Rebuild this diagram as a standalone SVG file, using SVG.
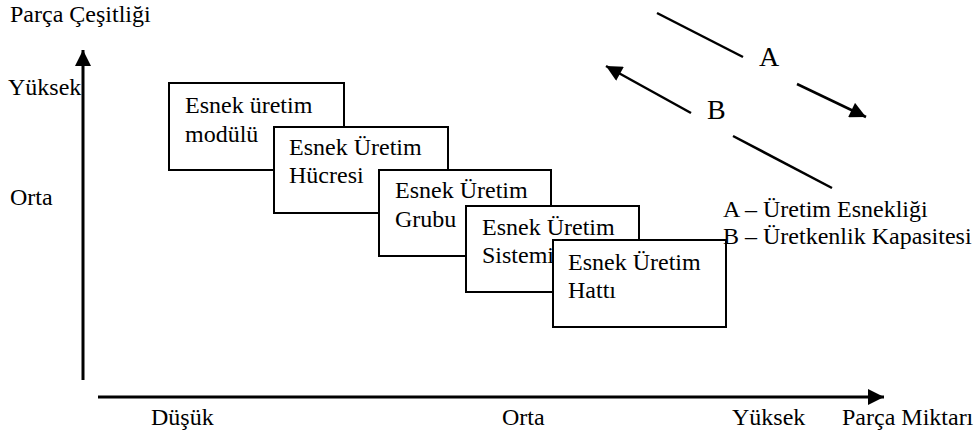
<svg xmlns="http://www.w3.org/2000/svg" width="975" height="434" viewBox="0 0 975 434">
<style>
text{font-family:"Liberation Serif","Times New Roman",serif;font-size:24px;fill:#000}
.big{font-size:28px}
.box{fill:#fff;stroke:#000;stroke-width:2}
.ax{stroke:#000;stroke-width:3;fill:none}
.ln{stroke:#000;stroke-width:2.5;fill:none}
</style>
<defs>
<marker id="ah" viewBox="0 0 10 10" refX="10" refY="5" markerWidth="17" markerHeight="16" markerUnits="userSpaceOnUse" orient="auto">
<path d="M0,0 L10,5 L0,10 Z" fill="#000"/>
</marker>
</defs>
<g id="axes">
<line class="ax" x1="83" y1="380" x2="83" y2="50" marker-end="url(#ah)"/>
<line class="ax" x1="98" y1="397" x2="884" y2="397" marker-end="url(#ah)"/>
</g>
<g id="axis-labels">
<text x="10" y="22">Parça Çeşitliği</text>
<text x="8" y="95">Yüksek</text>
<text x="10" y="205">Orta</text>
<text x="151" y="425">Düşük</text>
<text x="502" y="425">Orta</text>
<text x="732" y="425">Yüksek</text>
<text x="842" y="425">Parça Miktarı</text>
</g>
<g id="n1"><rect class="box" x="169" y="83" width="175" height="87"/><text x="185" y="113">Esnek üretim</text><text x="185" y="142">modülü</text></g>
<g id="n2"><rect class="box" x="274" y="127" width="174" height="86"/><text x="289" y="155">Esnek Üretim</text><text x="289" y="183">Hücresi</text></g>
<g id="n3"><rect class="box" x="379" y="170" width="172" height="86"/><text x="395" y="198">Esnek Üretim</text><text x="395" y="227">Grubu</text></g>
<g id="n4"><rect class="box" x="466" y="206" width="173" height="86"/><text x="482" y="235">Esnek Üretim</text><text x="482" y="263">Sistemi</text></g>
<g id="n5"><rect class="box" x="553" y="240" width="173" height="87"/><text x="568" y="270">Esnek Üretim</text><text x="568" y="298">Hattı</text></g>
<g id="connectors">
<line class="ln" x1="657" y1="13" x2="743" y2="57"/>
<line class="ln" x1="797" y1="84" x2="866" y2="117" marker-end="url(#ah)"/>
<line class="ln" x1="691" y1="113" x2="606" y2="66" marker-end="url(#ah)"/>
<line class="ln" x1="733" y1="136" x2="832" y2="188"/>
</g>
<g id="legend">
<text class="big" x="759" y="66">A</text>
<text class="big" x="707" y="119">B</text>
<text x="723" y="217">A – Üretim Esnekliği</text>
<text x="723" y="244">B – Üretkenlik Kapasitesi</text>
</g>
</svg>
